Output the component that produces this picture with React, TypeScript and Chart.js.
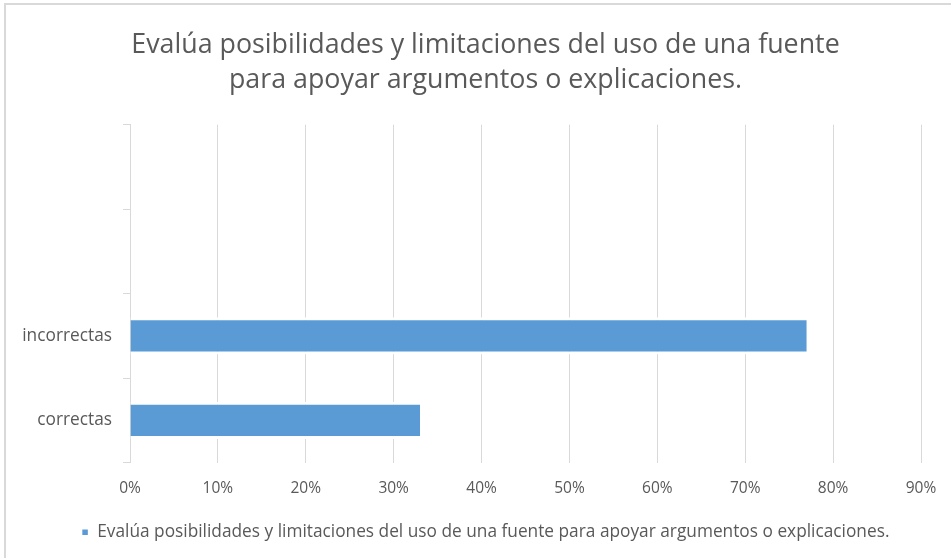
import React, { useEffect, useRef } from "react";
import { Chart, registerables } from "chart.js";

Chart.register(...registerables);

const titleLines = [
  "Evalúa posibilidades y limitaciones del uso de una fuente",
  "para apoyar argumentos o explicaciones.",
];
const seriesName =
  "Evalúa posibilidades y limitaciones del uso de una fuente para apoyar argumentos o explicaciones.";
const categories = ["", "", "incorrectas", "correctas"];
const values: (number | null)[] = [null, null, 77, 33];
const xTicks = [0, 10, 20, 30, 40, 50, 60, 70, 80, 90];

const FONT = "'Open Sans', Lato, sans-serif";
const TEXT = "#595959";
const GRID = "#d9d9d9";

const unclipY = {
  id: "unclipY",
  afterLayout(chart: any) {
    const y = chart.scales.y;
    if (y) y.left = 0;
  },
};

export default function App() {
  const ref = useRef<HTMLCanvasElement | null>(null);

  useEffect(() => {
    if (!ref.current) return;
    const chart = new Chart(ref.current, {
      type: "bar",
      data: {
        labels: categories,
        datasets: [
          {
            label: seriesName,
            data: values,
            backgroundColor: "#5B9BD5",
            borderColor: "#ffffff",
            borderWidth: { top: 3, bottom: 3, left: 0, right: 0 },
            borderSkipped: false,
            barPercentage: 0.44,
            categoryPercentage: 1,
          },
        ],
      },
      plugins: [unclipY],
      options: {
        indexAxis: "y",
        animation: false,
        responsive: false,
        maintainAspectRatio: false,
        layout: { padding: { left: 50, right: 30, top: 0, bottom: 7 } },
        plugins: {
          title: {
            display: true,
            text: titleLines,
            color: TEXT,
            font: { family: FONT, size: 26.8, weight: "normal", lineHeight: 1.3 },
            padding: { top: 28, bottom: 27 },
          },
          legend: {
            display: true,
            position: "bottom",
            labels: {
              color: TEXT,
              boxWidth: 7,
              boxHeight: 7,
              padding: 10,
              font: { family: FONT, size: 17.3 },
            },
          },
          tooltip: { enabled: false },
        },
        scales: {
          x: {
            min: 0,
            max: 90,
            afterBuildTicks: (scale: any) => {
              scale.ticks = xTicks.map((v) => ({ value: v }));
            },
            afterFit: (scale: any) => {
              scale.height = 51;
            },
            grid: {
              color: GRID,
              lineWidth: 1,
              drawTicks: true,
              tickLength: 17,
              tickColor: "rgba(0,0,0,0)",
            },
            border: { display: false },
            ticks: {
              color: TEXT,
              padding: 0,
              font: { family: FONT, size: 15.5 },
              callback: (v: any) => v + "%",
            },
          },
          y: {
            afterFit: (scale: any) => {
              scale.width = 80;
            },
            grid: {
              offset: true,
              drawOnChartArea: false,
              drawTicks: true,
              tickLength: 7,
              color: GRID,
            },
            border: { display: true, color: GRID, width: 1 },
            ticks: {
              color: TEXT,
              padding: 11,
              font: { family: FONT, size: 17.3 },
            },
          },
        },
      },
    });
    return () => chart.destroy();
  }, []);

  return (
    <div
      style={{
        position: "fixed",
        left: 0,
        top: 0,
        width: 951,
        height: 558,
        background: "#ffffff",
        overflow: "hidden",
      }}
    >
      <div
        style={{
          position: "absolute",
          left: 4,
          top: 3,
          width: 1000,
          height: 700,
          border: "2px solid #d9d9d9",
          boxSizing: "border-box",
        }}
      />
      <canvas
        ref={ref}
        width={951}
        height={558}
        style={{ position: "absolute", left: 0, top: 0, width: 951, height: 558 }}
      />
    </div>
  );
}
